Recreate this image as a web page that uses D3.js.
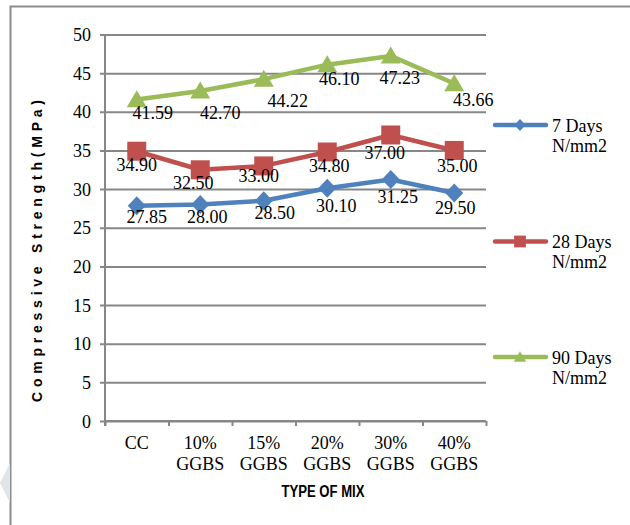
<!DOCTYPE html>
<html>
<head>
<meta charset="utf-8">
<script src="https://cdn.jsdelivr.net/npm/d3@7"></script>
<style>
  html, body { margin: 0; padding: 0; background: #fff; }
  svg { display: block; }
</style>
</head>
<body>
<svg id="chart" width="630" height="525"></svg>
<script>
// Mix types on the x axis (second line under each label)
const categories = ["CC", "10% GGBS", "15% GGBS", "20% GGBS", "30% GGBS", "40% GGBS"];
const categoryLines = [["CC"], ["10%", "GGBS"], ["15%", "GGBS"], ["20%", "GGBS"], ["30%", "GGBS"], ["40%", "GGBS"]];

// Compressive strength (MPa) per curing age
const days7  = [27.85, 28.00, 28.50, 30.10, 31.25, 29.50];
const days28 = [34.90, 32.50, 33.00, 34.80, 37.00, 35.00];
const days90 = [41.59, 42.70, 44.22, 46.10, 47.23, 43.66];

const seriesNames = ["7 Days", "28 Days", "90 Days"];
const yTicks = [0, 5, 10, 15, 20, 25, 30, 35, 40, 45, 50];

// Per-point label nudges (dx, dy from the marker), hand-placed to avoid overlaps
const nudge7  = [[10, 11], [7, 12], [11, 12], [9, 18], [7, 18], [1, 15]];
const nudge28 = [[0, 14], [-7, 13], [-5, 10], [2, 14], [-6, 18], [3, 16]];
const nudge90 = [[16, 13], [20, 22], [24, 22], [12, 14], [9, 22], [19, 16]];

const styles = [
  { color: "#4f81bd", marker: "diamond", nudge: nudge7 },
  { color: "#c0504d", marker: "square", nudge: nudge28 },
  { color: "#9bbb59", marker: "triangle", nudge: nudge90 }
];
const seriesValues = [days7, days28, days90];

const svg = d3.select("#chart");
const serif = "'Liberation Serif', 'Times New Roman', serif";
const gridColor = "#878787";

// Outer frame (left and top edges) and the faint page mark
svg.append("path")
  .attr("d", "M10.5,525 L10.5,6.5 L630,6.5")
  .attr("fill", "none").attr("stroke", "#8c8c8c").attr("stroke-width", 2);
svg.append("polygon")
  .attr("points", "0,483 10,463 10,503")
  .attr("fill", "#dfe5e8");

const plot = { left: 105, right: 486, top: 34.5, bottom: 421 };

const x = d3.scaleBand().domain(categories).range([plot.left, plot.right]).padding(0);
const xEdge = d3.scaleLinear().domain([0, categories.length]).range([plot.left, plot.right]);
const y = d3.scaleLinear().domain([0, 50]).range([plot.bottom, plot.top]);
const cx = c => x(c) + x.bandwidth() / 2;

// Horizontal gridlines with short outward ticks and tick labels
const yAxis = svg.append("g")
  .attr("transform", `translate(${plot.left},0)`)
  .call(d3.axisLeft(y).tickValues(yTicks).tickSize(5).tickPadding(9));
yAxis.select(".domain").remove();
yAxis.selectAll(".tick line")
  .attr("x1", -5).attr("x2", plot.right - plot.left)
  .attr("stroke", gridColor).attr("stroke-width", 2);
yAxis.selectAll(".tick text")
  .attr("font-family", serif).attr("font-size", 18).attr("fill", "#000")
  .attr("dy", "0.34em");

// Vertical axis line
svg.append("line")
  .attr("x1", plot.left).attr("x2", plot.left)
  .attr("y1", plot.top).attr("y2", plot.bottom + 5)
  .attr("stroke", gridColor).attr("stroke-width", 2);

// Category axis: ticks on the band boundaries
const xAxis = svg.append("g")
  .attr("transform", `translate(0,${plot.bottom})`)
  .call(d3.axisBottom(xEdge).tickValues(d3.range(categories.length + 1)).tickSize(5).tickFormat(""));
xAxis.select(".domain").attr("stroke", gridColor).attr("stroke-width", 2)
  .attr("d", `M${plot.left},0H${plot.right}`);
xAxis.selectAll(".tick line").attr("stroke", gridColor).attr("stroke-width", 2);

// Category labels (two lines)
const catLabels = svg.append("g");
categories.forEach((c, i) => {
  const t = catLabels.append("text")
    .attr("x", cx(c)).attr("y", 449)
    .attr("text-anchor", "middle")
    .attr("font-family", serif).attr("font-size", 18).attr("fill", "#000");
  categoryLines[i].forEach((ln, j) => {
    t.append("tspan").attr("x", cx(c)).attr("dy", j === 0 ? 0 : 21).text(ln);
  });
});

// Axis titles
svg.append("text")
  .attr("x", 323).attr("y", 497)
  .attr("text-anchor", "middle")
  .attr("font-family", "'Liberation Sans Narrow', 'Arial Narrow', 'Liberation Sans', sans-serif")
  .attr("font-weight", "bold").attr("font-size", 16)
  .attr("textLength", 83).attr("lengthAdjust", "spacingAndGlyphs")
  .text("TYPE OF MIX");

svg.append("text")
  .attr("transform", "translate(42,251) rotate(-90)")
  .attr("text-anchor", "middle")
  .attr("font-family", "'Liberation Sans', Arial, sans-serif")
  .attr("font-weight", "bold").attr("font-size", 14)
  .attr("textLength", 302).attr("lengthAdjust", "spacing")
  .text("Compressive Strength(MPa)");

// Marker shapes
function markerPath(kind, s) {
  if (kind === "diamond") {
    const w = 9 * s, h = 9.5 * s;
    return `M0,${-h}L${w},0L0,${h}L${-w},0Z`;
  }
  if (kind === "square") {
    const a = 9.5 * s;
    return `M${-a},${-a}H${a}V${a}H${-a}Z`;
  }
  const w = 10 * s, h = 17 * s;
  return `M0,${-h * 0.55}L${w},${h * 0.45}L${-w},${h * 0.45}Z`;
}

const line = d3.line().x((d, i) => cx(categories[i])).y(d => y(d));

seriesValues.forEach((vals, si) => {
  const st = styles[si];
  const g = svg.append("g");
  g.append("path")
    .datum(vals)
    .attr("d", line)
    .attr("fill", "none").attr("stroke", st.color)
    .attr("stroke-width", 4.5).attr("stroke-linejoin", "round").attr("stroke-linecap", "round");
  g.selectAll("path.mk")
    .data(vals)
    .join("path").attr("class", "mk")
    .attr("transform", (d, i) => `translate(${cx(categories[i])},${y(d)})`)
    .attr("d", markerPath(st.marker, 1))
    .attr("fill", st.color);
});

// Value labels
seriesValues.forEach((vals, si) => {
  const st = styles[si];
  svg.append("g").selectAll("text")
    .data(vals)
    .join("text")
    .attr("x", (d, i) => cx(categories[i]) + st.nudge[i][0])
    .attr("y", (d, i) => y(d) + st.nudge[i][1] + 6)
    .attr("text-anchor", "middle")
    .attr("font-family", serif).attr("font-size", 18).attr("fill", "#000")
    .text(d => d.toFixed(2));
});

// Legend
const legendY = [125, 241.5, 357];
seriesNames.forEach((name, si) => {
  const st = styles[si];
  const g = svg.append("g").attr("transform", `translate(0,${legendY[si]})`);
  g.append("line")
    .attr("x1", 495).attr("x2", 546).attr("y1", 0).attr("y2", 0)
    .attr("stroke", st.color).attr("stroke-width", 4.5).attr("stroke-linecap", "round");
  g.append("path")
    .attr("transform", "translate(520,0)")
    .attr("d", markerPath(st.marker, 0.62))
    .attr("fill", st.color);
  const t = g.append("text")
    .attr("x", 552).attr("y", 6.5)
    .attr("font-family", serif).attr("font-size", 18).attr("fill", "#000");
  t.append("tspan").attr("x", 552).attr("dy", 0).text(name);
  t.append("tspan").attr("x", 552).attr("dy", 20).text("N/mm2");
});
</script>
</body>
</html>
